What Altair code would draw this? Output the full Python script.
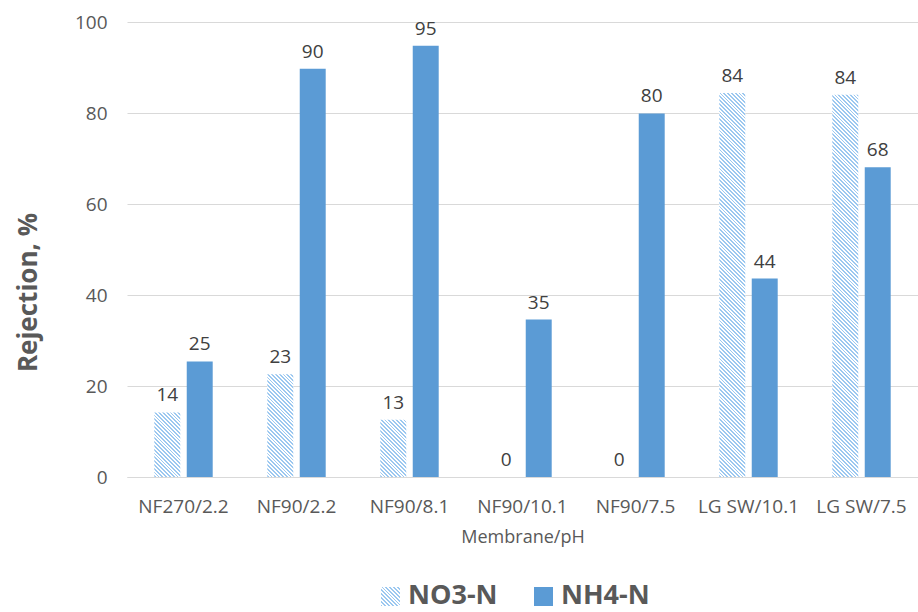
import altair as alt
import pandas as pd

# ---- data -------------------------------------------------------------
categories = ["NF270/2.2", "NF90/2.2", "NF90/8.1", "NF90/10.1",
              "NF90/7.5", "LG SW/10.1", "LG SW/7.5"]
series = ["NO3-N", "NH4-N"]
no3_n = [14.2, 22.6, 12.6, 0.0, 0.0, 84.4, 84.0]
nh4_n = [25.4, 89.7, 94.8, 34.6, 79.9, 43.6, 68.1]
y_ticks = [0, 20, 40, 60, 80, 100]

# ---- style ------------------------------------------------------------
W, H = 791, 455
BAR_W = 26
STRIPE = "#9cc8f0"
SOLID = "#5b9bd5"
TEXT = "#595959"
LABEL = "#404040"
GRID = "#d9d9d9"
FONT = "Open Sans"

rows = []
for i, c in enumerate(categories):
    rows.append({"Membrane": c, "Series": series[0], "Value": no3_n[i]})
    rows.append({"Membrane": c, "Series": series[1], "Value": nh4_n[i]})
df = pd.DataFrame(rows)


def hatch(w, h, period=3.8, fill_frac=0.5):
    """Downward-diagonal stripes as a hard-stop linear gradient for a w x h box."""
    k = (w + h) / (w * w + h * h)
    n = (w + h) / period
    stops = []
    i = 0
    while i < n:
        a = i / n
        b = min((i + fill_frac) / n, 1.0)
        c = min((i + 1) / n, 1.0)
        stops += [
            {"offset": a, "color": STRIPE},
            {"offset": b, "color": STRIPE},
            {"offset": b, "color": "#ffffff"},
            {"offset": c, "color": "#ffffff"},
        ]
        i += 1
    return {"gradient": "linear", "x1": 0, "y1": 1,
            "x2": k * w, "y2": 1 - k * h, "stops": stops}


x_enc = alt.X(
    "Membrane:N",
    sort=categories,
    scale=alt.Scale(domain=categories, paddingInner=0.483, paddingOuter=0.2415),
    axis=alt.Axis(
        title="Membrane/pH",
        labelAngle=0,
        labelFont=FONT,
        labelFontSize=19,
        labelColor=TEXT,
        labelPadding=20,
        ticks=False,
        tickSize=0,
        domain=True,
        domainColor=GRID,
        domainWidth=1,
        grid=False,
        titleFont=FONT,
        titleFontSize=18,
        titleFontWeight="normal",
        titleColor=TEXT,
        titleBaseline="alphabetic",
        titleY=65,
    ),
)
xoff_enc = alt.XOffset(
    "Series:N",
    sort=series,
    scale=alt.Scale(domain=series, paddingInner=0.2, paddingOuter=0),
)
y_enc = alt.Y(
    "Value:Q",
    scale=alt.Scale(domain=[0, 100], nice=False),
    axis=alt.Axis(
        title="Rejection, %",
        values=y_ticks,
        labelFont=FONT,
        labelFontSize=19,
        labelColor=TEXT,
        labelPadding=20,
        ticks=False,
        tickSize=0,
        domain=False,
        grid=True,
        gridColor=GRID,
        gridWidth=1,
        titleFont=FONT,
        titleFontSize=26,
        titleFontWeight="bold",
        titleColor=TEXT,
        titleAlign="center",
        titleBaseline="alphabetic",
        titleX=-91,
        titleY=270,
    ),
)

base = alt.Chart(df)

# solid NH4-N bars
solid = base.transform_filter(
    alt.datum.Series == series[1]
).mark_bar(fill=SOLID).encode(x=x_enc, xOffset=xoff_enc, y=y_enc)

layers = [solid]

# hatched NO3-N bars, each with its own stripe gradient
for c, v in zip(categories, no3_n):
    if v <= 0:
        continue
    layers.append(
        base.transform_filter(
            (alt.datum.Series == series[0]) & (alt.datum.Membrane == c)
        ).mark_bar(fill=hatch(BAR_W, v / 100.0 * H)).encode(
            x=x_enc, xOffset=xoff_enc, y=y_enc
        )
    )

# value labels
labels = base.mark_text(
    font=FONT, fontSize=19, color=LABEL, baseline="alphabetic", dy=-11
).encode(
    x=x_enc, xOffset=xoff_enc, y=y_enc,
    text=alt.Text("Value:Q", format=".0f"),
)
layers.append(labels)

# legend below the axis title
legend_rows = pd.DataFrame({"Series": series})
sym_x = [254, 407]
txt_x = [281, 434]
for i, name in enumerate(series):
    one = alt.Chart(legend_rows).transform_filter(alt.datum.Series == name)
    sym_fill = hatch(19, 19) if i == 0 else SOLID
    layers.append(
        one.mark_rect(fill=sym_fill).encode(
            x=alt.value(sym_x[i]), x2=alt.value(sym_x[i] + 19),
            y=alt.value(565), y2=alt.value(584),
        )
    )
    layers.append(
        one.mark_text(
            font=FONT, fontSize=27, fontWeight="bold", color=TEXT,
            align="left", baseline="alphabetic",
        ).encode(x=alt.value(txt_x[i]), y=alt.value(582), text="Series:N")
    )

chart = alt.layer(*layers).properties(
    width=W,
    height=H,
    autosize=alt.AutoSizeParams(type="none"),
    padding={"left": 127, "top": 22, "right": 0, "bottom": 135},
    background="white",
).configure_view(stroke=None)

chart.save("out.html", embed_options={"renderer": "svg", "actions": False})
